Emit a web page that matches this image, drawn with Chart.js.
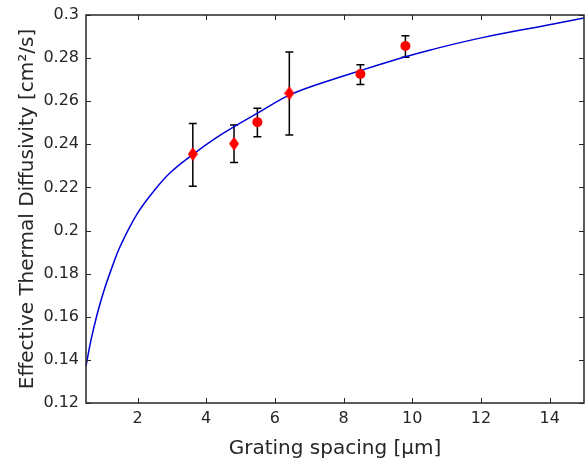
<!DOCTYPE html>
<html>
<head>
<meta charset="utf-8">
<script src="https://cdn.jsdelivr.net/npm/chart.js@4"></script>
<style>
  html, body { margin: 0; padding: 0; background: #fff; }
  #wrap { width: 585px; height: 462px; }
</style>
</head>
<body>
<div id="wrap"><canvas id="chart" width="585" height="462"></canvas></div>
<script>
// ===== DATA =====
const curveX = [0.5, 0.64, 0.83, 1.02, 1.27, 1.49, 1.98, 2.46, 2.95, 3.61, 4.41, 5.57, 6.42, 7.32, 8.49, 9.80, 10.53, 12.04, 14.03, 15];
const curveY = [0.137, 0.1488, 0.1615, 0.172, 0.1835, 0.1925, 0.2075, 0.2180, 0.2268, 0.2353, 0.2443, 0.2552, 0.2628, 0.2682, 0.2742, 0.2806, 0.2838, 0.2895, 0.2956, 0.2986];

const diamondX = [3.61, 4.81, 6.42];
const diamondY = [0.2355, 0.2403, 0.2637];
const diamondLo = [0.2206, 0.2316, 0.2443];
const diamondHi = [0.2497, 0.2490, 0.2828];

const circleX = [5.49, 8.49, 9.80];
const circleY = [0.2503, 0.2726, 0.2856];
const circleLo = [0.2435, 0.2678, 0.2804];
const circleHi = [0.2567, 0.2769, 0.2904];

const xTicks = [2, 4, 6, 8, 10, 12, 14];
const yTicks = [0.12, 0.14, 0.16, 0.18, 0.2, 0.22, 0.24, 0.26, 0.28, 0.3];

const AXIS = '#262626';
const FONT = "'DejaVu Sans', sans-serif";

// MATLAB-style tall diamond marker
function makeDiamond(w, h, color) {
  const c = document.createElement('canvas');
  c.width = w; c.height = h;
  const g = c.getContext('2d');
  g.fillStyle = color;
  g.beginPath();
  g.moveTo(w / 2, 0);
  g.lineTo(w, h / 2);
  g.lineTo(w / 2, h);
  g.lineTo(0, h / 2);
  g.closePath();
  g.fill();
  return c;
}

const toPts = (xs, ys) => xs.map((x, i) => ({ x: x, y: ys[i] }));

// ===== ERROR BARS + BOX/INSIDE TICKS =====
const errorBars = {
  id: 'errorBars',
  beforeDatasetsDraw(chart) {
    const { ctx, scales: { x, y } } = chart;
    ctx.save();
    ctx.strokeStyle = '#000';
    ctx.lineWidth = 1.5;
    const draw = (xs, lo, hi) => {
      xs.forEach((v, i) => {
        const px = x.getPixelForValue(v);
        const p1 = y.getPixelForValue(lo[i]);
        const p2 = y.getPixelForValue(hi[i]);
        ctx.beginPath();
        ctx.moveTo(px, p1); ctx.lineTo(px, p2);
        ctx.moveTo(px - 4, p1); ctx.lineTo(px + 4, p1);
        ctx.moveTo(px - 4, p2); ctx.lineTo(px + 4, p2);
        ctx.stroke();
      });
    };
    draw(diamondX, diamondLo, diamondHi);
    draw(circleX, circleLo, circleHi);
    ctx.restore();
  },
  afterDatasetsDraw(chart) {
    const { ctx, chartArea: a, scales: { x, y } } = chart;
    ctx.save();
    ctx.strokeStyle = AXIS;
    ctx.lineWidth = 1;
    ctx.beginPath();
    xTicks.forEach(v => {
      const px = Math.round(x.getPixelForValue(v)) + 0.5;
      ctx.moveTo(px, a.bottom); ctx.lineTo(px, a.bottom - 5);
      ctx.moveTo(px, a.top); ctx.lineTo(px, a.top + 5);
    });
    yTicks.forEach(v => {
      const py = Math.round(y.getPixelForValue(v)) + 0.5;
      ctx.moveTo(a.left, py); ctx.lineTo(a.left + 5, py);
      ctx.moveTo(a.right, py); ctx.lineTo(a.right - 5, py);
    });
    ctx.stroke();
    ctx.lineWidth = 1.5;
    ctx.strokeRect(a.left, a.top, a.right - a.left, a.bottom - a.top);
    ctx.restore();
  }
};

new Chart(document.getElementById('chart').getContext('2d'), {
  type: 'scatter',
  data: {
    datasets: [
      {
        label: 'fit',
        data: toPts(curveX, curveY),
        showLine: true,
        borderColor: '#0000d8',
        borderWidth: 1.5,
        pointRadius: 0,
        tension: 0.4,
        order: 3
      },
      {
        label: 'diamonds',
        data: toPts(diamondX, diamondY),
        pointStyle: makeDiamond(10, 14, '#ff0000'),
        order: 1
      },
      {
        label: 'circles',
        data: toPts(circleX, circleY),
        pointStyle: 'circle',
        pointRadius: 5,
        backgroundColor: '#ff0000',
        borderWidth: 0,
        order: 2
      }
    ]
  },
  options: {
    responsive: false,
    animation: false,
    layout: { autoPadding: false, padding: { top: 15, right: 1, left: 0, bottom: 0 } },
    plugins: {
      legend: { display: false },
      tooltip: { enabled: false }
    },
    scales: {
      x: {
        type: 'linear',
        min: 0.5,
        max: 15,
        afterBuildTicks: s => { s.ticks = xTicks.map(v => ({ value: v })); },
        afterFit: s => { s.height = 59; s.paddingLeft = 0; s.paddingRight = 0; },
        grid: { display: false, drawTicks: false },
        border: { display: false },
        ticks: {
          color: AXIS,
          padding: 6,
          font: { family: FONT, size: 16 },
          maxRotation: 0
        },
        title: {
          display: true,
          text: 'Grating spacing [μm]',
          color: AXIS,
          font: { family: FONT, size: 20 },
          padding: { top: 0, bottom: 1 }
        }
      },
      y: {
        type: 'linear',
        min: 0.12,
        max: 0.3,
        afterBuildTicks: s => { s.ticks = yTicks.map(v => ({ value: v })); },
        afterFit: s => { s.width = 86; s.paddingTop = 0; s.paddingBottom = 0; },
        grid: { display: false, drawTicks: false },
        border: { display: false },
        ticks: {
          color: AXIS,
          padding: 7,
          font: { family: FONT, size: 16 },
          callback: v => String(+v.toFixed(2))
        },
        title: {
          display: true,
          text: 'Effective Thermal Diffusivity [cm²/s]',
          color: AXIS,
          font: { family: FONT, size: 20 },
          padding: { top: 16, bottom: 0 }
        }
      }
    }
  },
  plugins: [errorBars]
});
</script>
</body>
</html>
